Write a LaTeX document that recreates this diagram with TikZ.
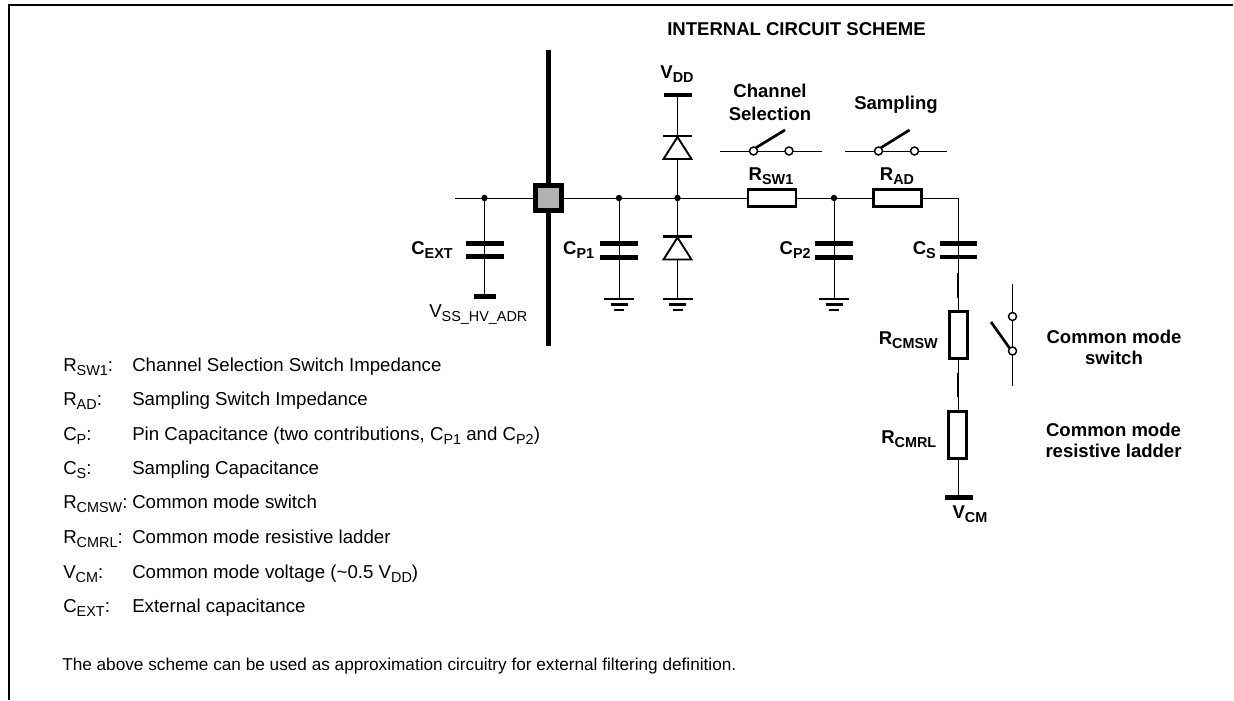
\documentclass[tikz,border=0pt]{standalone}
\usepackage{fontspec}
\setmainfont{Liberation Sans}
\newcommand{\lbl}[2]{#1\raisebox{-3pt}{\fontsize{10.8}{11}\selectfont #2}}
\tikzset{
  wire/.style={line width=0.75pt,black},
  plate/.style={line width=3.6pt,black},
  heavybar/.style={line width=3.4pt,black},
  boxr/.style={draw,line width=2.2pt,fill=white,minimum width=0pt,minimum height=0pt,inner sep=0pt},
  junction/.style={circle,fill=black,inner sep=0pt,minimum size=4.8pt},
  contact/.style={circle,draw,line width=1.1pt,fill=white,inner sep=0pt,minimum size=6pt},
  arm/.style={line width=2pt,black},
  ttext/.style={font=\fontsize{13.9}{16}\selectfont\bfseries,align=center,inner sep=0pt},
  ltext/.style={font=\fontsize{14}{16}\selectfont,anchor=base west,inner sep=0pt},
}
\newcommand{\gnd}[2]{%
  \draw[line width=2.1pt] (#1-15,#2) -- (#1+15,#2);
  \draw[line width=2.1pt] (#1-8.5,#2+5.5) -- (#1+8.5,#2+5.5);
  \draw[line width=2.1pt] (#1-5,#2+11) -- (#1+5,#2+11);}
\newcommand{\capa}[4]{%
  \draw[plate] (#1-#2,#3) -- (#1+#2,#3);
  \draw[plate] (#1-#2,#4) -- (#1+#2,#4);}
\newcommand{\diode}[2]{%
  \draw[line width=2.1pt] (#1-14.5,#2) -- (#1+14.5,#2);
  \draw[line width=1.4pt,fill=white] (#1,#2+1) -- (#1+14,#2+23) -- (#1-14,#2+23) -- cycle;}
\begin{document}
\begin{tikzpicture}[x=0.75pt,y=-0.75pt]
\useasboundingbox (0,0) rectangle (1234,700);
\draw[line width=1.5pt] (1233,5) -- (9,5) -- (9,700);

% wires
\coordinate (wl) at (455,198);
\coordinate (cext) at (484.5,198);
\coordinate (cp1) at (619,198);
\coordinate (dj) at (677.5,198);
\coordinate (cp2) at (834,198);
\coordinate (wr) at (958,198);
\draw[wire] (wl) -- (wr) -- (958,497);
\draw[wire] (cext) -- (484.5,296);
\draw[wire] (cp1) -- (619,299);
\draw[wire] (677.5,95) -- (677.5,299);
\draw[wire] (cp2) -- (834,299);

% bus and pad
\draw[line width=3.5pt] (548.5,50) -- (548.5,346);
\node[draw,line width=3.75pt,fill=black!30,minimum size=19.1pt,inner sep=0pt] (pad) at (548.5,198) {};
\node[junction] (j1) at (cext) {};
\node[junction] (j2) at (cp1) {};
\node[junction] (j3) at (dj) {};
\node[junction] (j4) at (cp2) {};

% capacitors
\capa{484.5}{19}{243.5}{256.5}
\capa{619}{19}{243.5}{257.5}
\capa{834}{19}{243.5}{257.5}
\capa{958}{18.5}{243.5}{257}
\draw[heavybar] (474,296.5) -- (496,296.5);
\draw[heavybar] (664,95) -- (692,95);
\draw[heavybar] (945,497.5) -- (973,497.5);
\draw[line width=1.3pt] (958,273) -- (958,298);
\draw[line width=1.3pt] (958,373) -- (958,397);

% grounds
\gnd{619}{299}
\gnd{677.5}{299}
\gnd{834}{299}

% diodes
\diode{677.5}{136}
\diode{677.5}{236.5}

% resistors
\node[boxr,minimum width=36pt,minimum height=12.6pt] (rsw) at (772,198) {};
\node[boxr,minimum width=36pt,minimum height=12.6pt] (rad) at (897.5,198) {};
\node[boxr,minimum width=13pt,minimum height=35pt] (rcmsw) at (958.5,335) {};
\node[boxr,minimum width=13pt,minimum height=35pt] (rcmrl) at (957.5,435) {};

% switches
\coordinate (s1l) at (720,151);
\coordinate (s1r) at (822,151);
\coordinate (s2l) at (845,151);
\coordinate (s2r) at (947,151);
\draw[wire] (s1l) -- (s1r);
\draw[wire] (s2l) -- (s2r);
\node[contact] (c1) at (753.5,151) {};
\node[contact] (c2) at (789,151) {};
\node[contact] (c3) at (878.5,151) {};
\node[contact] (c4) at (914.5,151) {};
\coordinate (a1) at (785,130);
\coordinate (a2) at (909.5,130);
\draw[arm] (c1) ++(2,-3) -- (a1);
\draw[arm] (c3) ++(2,-3) -- (a2);
\coordinate (s3t) at (1012.5,284);
\coordinate (s3b) at (1012.5,386);
\draw[wire] (s3t) -- (s3b);
\node[contact] (c5) at (1012.5,316.5) {};
\node[contact] (c6) at (1012.5,351) {};
\coordinate (a3) at (991,322);
\draw[arm] (a3) -- (1009.5,348);

% circuit labels
\node[ttext] (title) at (796.5,29) {INTERNAL CIRCUIT SCHEME};
\node[ttext] (t1) at (770,102.5) {Channel\\[1.6pt]Selection};
\node[ttext] (t2) at (896,105) {Sampling};
\node[ttext] (t3) at (1114,347.5) {Common mode\\switch};
\node[ttext] (t4) at (1113.5,440.5) {Common mode\\resistive ladder};
\node[ttext,anchor=base] (vdd) at (677,78) {\lbl{V}{DD}};
\node[ttext,anchor=base] (rs) at (771,180) {\lbl{R}{SW1}};
\node[ttext,anchor=base] (ra) at (897,180) {\lbl{R}{AD}};
\node[ttext,anchor=base east] (ce) at (453,254) {\lbl{C}{EXT}};
\node[ttext,anchor=base east] (cp) at (594.5,254) {\lbl{C}{P1}};
\node[ttext,anchor=base east] (cq) at (811,254) {\lbl{C}{P2}};
\node[ttext,anchor=base east] (cs) at (936,254) {\lbl{C}{S}};
\node[ttext,anchor=base east] (r1) at (938,344) {\lbl{R}{CMSW}};
\node[ttext,anchor=base east] (r2) at (936.5,443) {\lbl{R}{CMRL}};
\node[ttext,anchor=base] (vcm) at (970,518) {\lbl{V}{CM}};
\node[ltext] (vss) at (429,317) {\lbl{V}{SS\_HV\_ADR}};

% legend
\node[ltext] (k1) at (63,371) {\lbl{R}{SW1}:};
\node[ltext] (v1) at (132,371) {Channel Selection Switch Impedance};
\node[ltext] (k2) at (63,405) {\lbl{R}{AD}:};
\node[ltext] (v2) at (132,405) {Sampling Switch Impedance};
\node[ltext] (k3) at (63,440) {\lbl{C}{P}:};
\node[ltext] (v3) at (132,440) {Pin Capacitance (two contributions, \lbl{C}{P1} and \lbl{C}{P2})};
\node[ltext] (k4) at (63,474) {\lbl{C}{S}:};
\node[ltext] (v4) at (132,474) {Sampling Capacitance};
\node[ltext] (k5) at (63,508) {\lbl{R}{CMSW}:};
\node[ltext] (v5) at (132,508) {Common mode switch};
\node[ltext] (k6) at (63,543) {\lbl{R}{CMRL}:};
\node[ltext] (v6) at (132,543) {Common mode resistive ladder};
\node[ltext] (k7) at (63,578) {\lbl{V}{CM}:};
\node[ltext] (v7) at (132,578) {Common mode voltage (\textasciitilde 0.5 \lbl{V}{DD})};
\node[ltext] (k8) at (63,612) {\lbl{C}{EXT}:};
\node[ltext] (v8) at (132,612) {External capacitance};
\node[ltext,font=\fontsize{12.9}{15}\selectfont] (foot) at (62,670) {The above scheme can be used as approximation circuitry for external filtering definition.};
\end{tikzpicture}
\end{document}
